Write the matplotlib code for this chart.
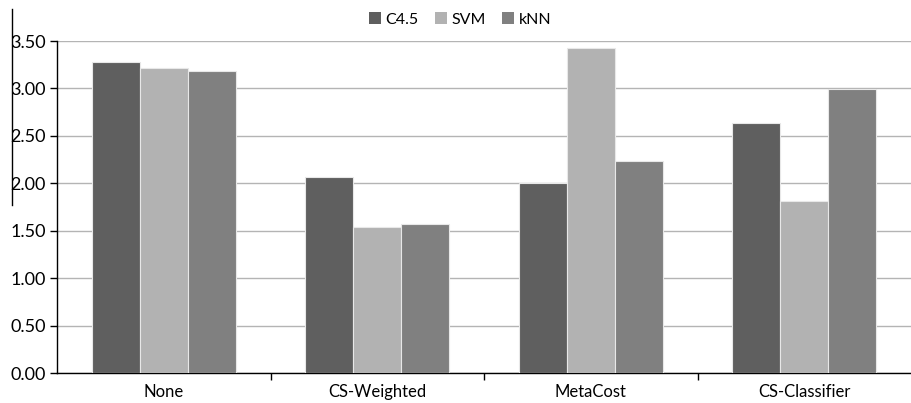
import numpy as np
import matplotlib
matplotlib.use("Agg")
import matplotlib.pyplot as plt
from matplotlib.lines import Line2D

# data
methods = ["None", "CS-Weighted", "MetaCost", "CS-Classifier"]
series = ["C4.5", "SVM", "kNN"]
c45 = [3.28, 2.07, 2.00, 2.64]
svm = [3.22, 1.54, 3.43, 1.81]
knn = [3.18, 1.57, 2.24, 2.99]
yticks = [0.0, 0.5, 1.0, 1.5, 2.0, 2.5, 3.0, 3.5]

colors = ["#5f5f5f", "#b2b2b2", "#808080"]

plt.rcParams['font.family'] = ['Lato', 'DejaVu Sans']

fig = plt.figure(figsize=(9.11, 4.03), dpi=100)
ax = fig.add_axes([57/911, 30/403, 854/911, 332/403])

x = np.arange(len(methods))
w = 0.225
for k, (name, vals) in enumerate(zip(series, [c45, svm, knn])):
    ax.bar(x + (k - 1) * w, vals, w, color=colors[k], edgecolor="#e8e8e8",
           linewidth=0.8, label=name, zorder=3)

ax.set_xlim(-0.5, 3.5)
ax.set_ylim(0, 3.5)
ax.set_yticks(yticks)
ax.set_yticklabels(["%.2f" % v for v in yticks], fontsize=13)
ax.set_xticks(x)
ax.set_xticklabels(methods, fontsize=12)
ax.tick_params(axis="x", length=0, pad=8)
ax.set_xticks(np.arange(0.5, 3.5, 1), minor=True)
ax.tick_params(axis="x", which="minor", length=5, width=1, direction="out")
ax.tick_params(axis="y", length=5, width=1, direction="out", pad=3)
ax.yaxis.grid(True, color="#b4b4b4", linewidth=1, zorder=0)
for s in ["top", "right"]:
    ax.spines[s].set_visible(False)
ax.spines["left"].set_linewidth(1)
ax.spines["bottom"].set_linewidth(1)

leg = fig.legend(loc="upper center", bbox_to_anchor=(0.505, 1.005), ncol=3,
                 frameon=False, fontsize=11.5, handlelength=0.75, handleheight=0.75,
                 handletextpad=0.3, columnspacing=1.0)
for p in leg.get_patches():
    p.set_edgecolor("none")

# stray vertical line at the left of the original image
fig.add_artist(Line2D([12/911, 12/911], [1 - 9/403, 1 - 205/403],
                      transform=fig.transFigure, color="black", linewidth=1))

fig.savefig("out.png", dpi=100)
